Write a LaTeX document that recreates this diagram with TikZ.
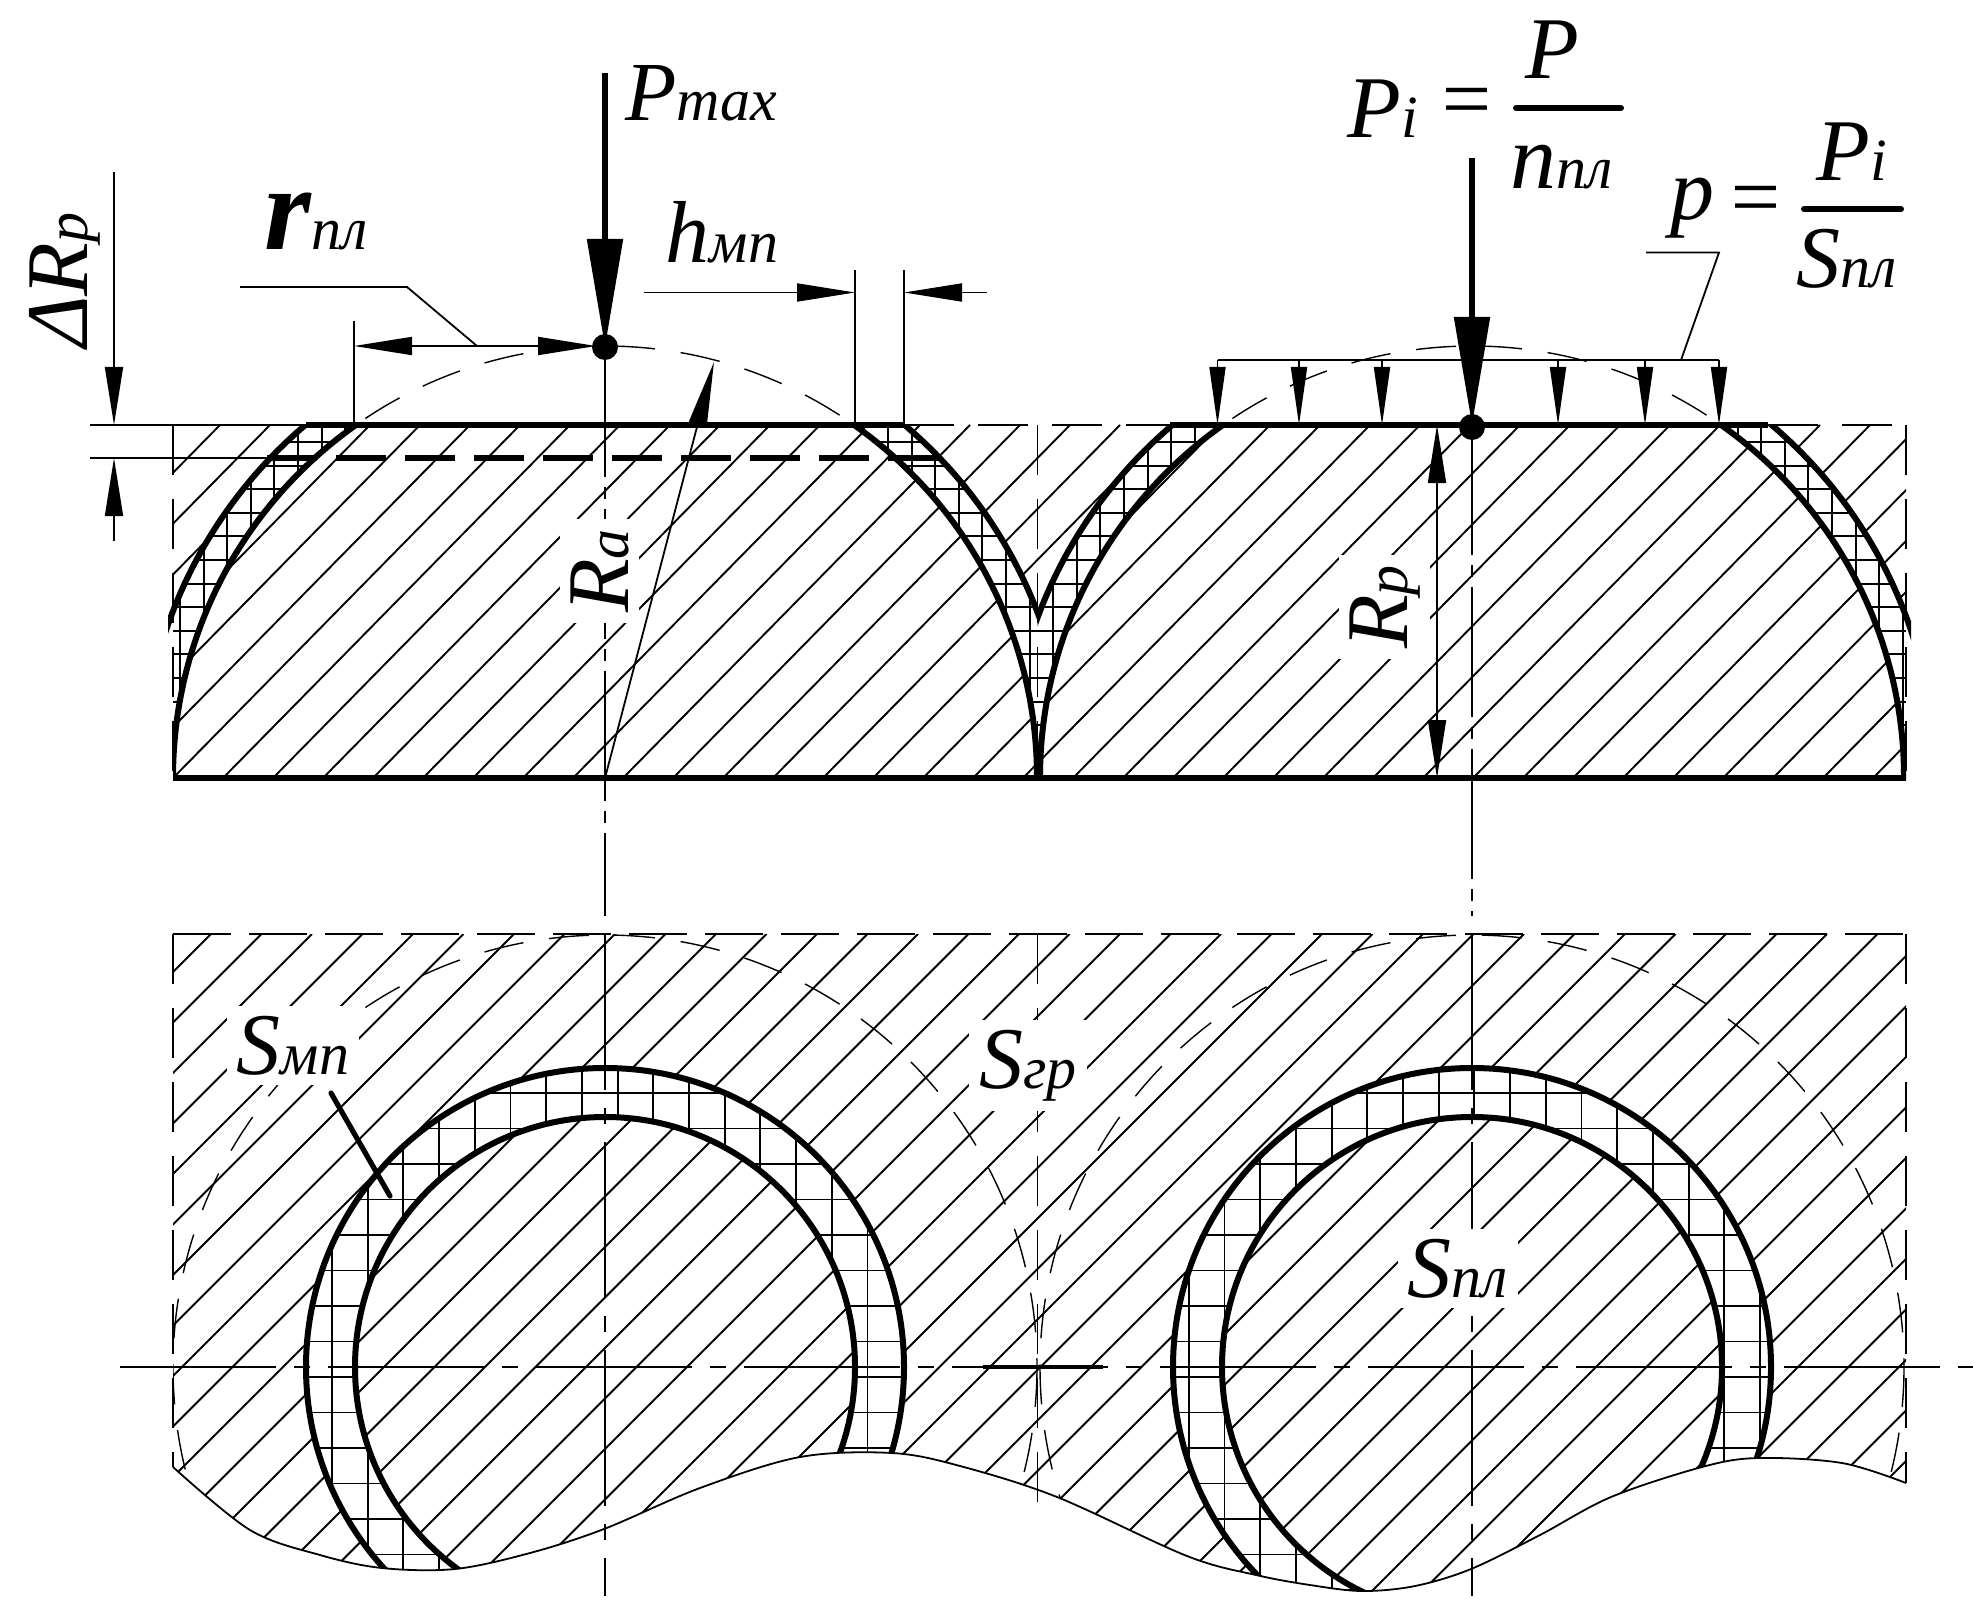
\documentclass[tikz,border=0pt]{standalone}
\usepackage{fontspec}
\setmainfont{Liberation Serif}
\usetikzlibrary{arrows.meta}

% Label with a big letter and a small index on one baseline
\newcommand{\lab}[3][44]{{\itshape\fontsize{#1}{#1}\selectfont #2\fontsize{30}{30}\selectfont #3}}
\newcommand{\hatchtop}{\foreach \k in {-6,...,34}
	{\draw[hatch] ({520+50*\k},425) -- ({173+50*\k},778);}}
\newcommand{\hatchlow}{\foreach \k in {-1,...,46}
	{\draw[hatch] ({211+50.5*\k},934) -- ({211+50.5*\k-666},1600);}}
\newcommand{\wave}{plot[smooth,tension=.55] coordinates {(173,1467) (250,1530)
	(320,1555) (382,1568) (455,1569) (530,1553) (604,1529) (700,1488) (800,1457)
	(892,1453) (960,1466) (1057,1497) (1187,1556) (1256,1575) (1310,1585) (1362,1591)
	(1415,1586) (1471,1569) (1540,1535) (1611,1497) (1702,1467) (1758,1458)
	(1842,1463) (1906,1483)}}

\begin{document}
\begin{tikzpicture}[x=.5pt,y=-.5pt,
% Line styles
    hatch/.style={line width=.95pt},
    gridline/.style={line width=.95pt},
    thin line/.style={line width=.9pt},
    outline/.style={line width=3pt},
    rim/.style={line width=.9pt,dash pattern=on 25pt off 12pt},
    ghost/.style={line width=.7pt,dash pattern=on 20pt off 13pt},
    axisline/.style={line width=.9pt,dash pattern=on 78pt off 9pt on 8pt off 9pt},
% Arrow styles
    force/.style={line width=2.6pt,-{Triangle[length=54pt,width=17.5pt]}},
    load/.style={line width=.9pt,-{Triangle[length=29pt,width=8pt]}},
    dimen/.style={line width=.9pt,-{Triangle[length=29pt,width=9pt]}},
    dimboth/.style={line width=.9pt,{Triangle[length=29pt,width=9pt]}-{Triangle[length=29pt,width=9pt]}},
% Text styles
    lbl/.style={anchor=base,inner sep=0pt},
    lblbg/.style={anchor=base,inner sep=5pt,fill=white},
    eqsign/.style={inner sep=0pt,font=\itshape\fontsize{44}{44}\selectfont},
    fracbar/.style={line width=3pt,line cap=round}
    ]
\useasboundingbox (0,0) rectangle (1973,1604);
%% Centres of the two contact spots
\coordinate (o1) at (605,778);
\coordinate (o2) at (1472,778);
\coordinate (c1) at (605,1367);
\coordinate (c2) at (1472,1367);

%% Section: hatching, worn ring, then the inner part
\begin{scope}
    \clip (173,425) rectangle (1906,778);
    \hatchtop
    \fill[white] (o1) circle [radius=463];
    \fill[white] (o2) circle [radius=463];
    \begin{scope}
        \clip (o1) circle [radius=463] (o2) circle [radius=463];
        \foreach \k in {0,...,73}
            {\draw[gridline] ({180+23.6*\k},425) -- ({180+23.6*\k},778);}
        \foreach \k in {0,...,14}
            {\draw[gridline] (173,{442+23.6*\k}) -- (1906,{442+23.6*\k});}
    \end{scope}
    \fill[white] (o1) circle [radius=432];
    \fill[white] (o2) circle [radius=432];
    \begin{scope}
        \clip (o1) circle [radius=432] (o2) circle [radius=432];
        \hatchtop
    \end{scope}
    \draw[outline] (o1) circle [radius=432];
    \draw[outline] (o2) circle [radius=432];
\end{scope}
\begin{scope}
    \clip (168,425) rectangle (1037.5,778);
    \draw[outline] (o1) circle [radius=463];
\end{scope}
\begin{scope}
    \clip (1037.5,425) rectangle (1911,778);
    \draw[outline] (o2) circle [radius=463];
\end{scope}
%% Original surface above the section
\begin{scope}
    \clip (0,0) rectangle (1973,425);
    \draw[ghost] (o1) circle [radius=432];
    \draw[ghost] (o2) circle [radius=432];
\end{scope}
%% Edges of the section
\draw[thin line] (90,425) -- (306,425);
\draw[thin line] (90,458) -- (267,458);
\draw[rim] (904,425) -- (1170,425);
\draw[rim] (1768,425) -- (1906,425);
\draw[rim] (173,425) -- (173,778);
\draw[rim] (1906,425) -- (1906,778);
\draw[rim] (1037.5,425) -- (1037.5,778);
\draw[outline] (306,425) -- (904,425);
\draw[outline] (1170,425) -- (1768,425);
\draw[line width=2.8pt,dash pattern=on 25pt off 9.5pt] (267,458) -- (940,458);
\draw[outline] (173,778) -- (1906,778);

%% Plan view
\begin{scope}
    \clip \wave -- (1906,934) -- (173,934) -- cycle;
    \hatchlow
    \fill[white] (c1) circle [radius=299];
    \fill[white] (c2) circle [radius=299];
    \begin{scope}
        \clip (c1) circle [radius=299] (c2) circle [radius=299];
        \foreach \k in {0,...,50}
            {\draw[gridline] ({332+35.7*\k},1060) -- ({332+35.7*\k},1600);}
        \foreach \k in {0,...,15}
            {\draw[gridline] (173,{1093+35.5*\k}) -- (1906,{1093+35.5*\k});}
    \end{scope}
    \fill[white] (c1) circle [radius=250];
    \fill[white] (c2) circle [radius=250];
    \begin{scope}
        \clip (c1) circle [radius=250] (c2) circle [radius=250];
        \hatchlow
    \end{scope}
    \draw[ghost] (c1) circle [radius=432];
    \draw[ghost] (c2) circle [radius=432];
    \draw[outline] (c1) circle [radius=299];
    \draw[outline] (c2) circle [radius=299];
    \draw[outline] (c1) circle [radius=250];
    \draw[outline] (c2) circle [radius=250];
\end{scope}
\draw[thin line] \wave;
\draw[rim,dash pattern=on 29pt off 9pt] (173,934) -- (1906,934);
\draw[rim] (173,934) -- (173,1467);
\draw[rim] (1906,934) -- (1906,1483);
\draw[rim] (1037.5,934) -- (1037.5,1510);
\draw[axisline] (120,1367) -- (1973,1367);
\draw[line width=2pt] (983,1367) -- (1103,1367);

%% Centre lines
\draw[axisline,dash pattern=on 65pt off 5pt on 6pt off 5pt] (605,347) -- (605,916);
\draw[axisline] (605,934) -- (605,1596);
\draw[axisline,dash pattern=on 65pt off 5pt on 6pt off 5pt] (1472,425) -- (1472,916);
\draw[axisline] (1472,934) -- (1472,1596);

%% Forces
\coordinate (top1) at (605,347);
\coordinate (top2) at (1472,425);
\draw[force] (605,73) -- (top1);
\fill (top1) circle [radius=13];
\draw[force] (1472,158) -- (top2);
\fill (1472,427) circle [radius=13];
%% Distributed load
\draw[thin line] (1217.5,360) -- (1719,360);
\foreach \xx in {1217.5,1299,1382,1558,1645,1719}
    {\draw[load] (\xx,360) -- (\xx,425);}
\draw[thin line] (1646,252.5) -- (1719,252.5) -- (1681,360);

%% Sizes
\draw[thin line] (354,321) -- (354,425);
\draw[thin line] (240,287) -- (407,287) -- (477,346);
\draw[dimen] (477,346) -- (354,346);
\draw[dimen] (477,346) -- (596,346);
\draw[thin line] (855,270) -- (855,425);
\draw[thin line] (904,270) -- (904,425);
\draw[dimen] (644,292.5) -- (855,292.5);
\draw[dimen] (987,292.5) -- (904,292.5);
\draw[dimen] (114,172) -- (114,425);
\draw[dimen] (114,541) -- (114,458);
\draw[line width=.9pt,-{Triangle[length=32pt,width=9pt]}] (o1) -- (714,362);
\draw[dimboth] (1437,425) -- (1437,778);

%% Formula bars
\draw[fracbar] (1516,108) -- (1621,108);
\draw[fracbar] (1804,209) -- (1901,209);
\draw[line width=2.6pt,line cap=round] (331,1093) -- (390,1196);

%% Labels
\node (pmax) [lbl] at (701,121) {\lab[42]{P}{max}};
\node (rpl) [lbl] at (316,250) {\lab[60]{{\bfseries r}}{пл}};
\node (hmp) [lbl] at (722,263) {\lab{h}{мп}};
\node (dr) [lbl,rotate=90] at (87,280) {\lab{ΔR}{p}};
\node (ra) [lblbg,rotate=90] at (628,571) {\lab{R}{a}};
\node (rp) [lblbg,rotate=90] at (1407,607) {\lab{R}{p}};
\node (pi) [lbl] at (1383,138) {\lab{P}{i}};
\node (eq1) [eqsign] at (1466,108) {=};
\node (pnum) [lbl] at (1552,79) {\lab{P}{}};
\node (nden) [lbl] at (1562,189) {\lab[46]{n}{пл}};
\node (plow) [lbl] at (1692,220) {\lab{p}{}};
\node (eq2) [eqsign] at (1755,206) {=};
\node (pinum) [lbl] at (1852,181) {\lab{P}{i}};
\node (sden) [lbl] at (1847,288) {\lab{S}{пл}};
\node (smp) [lblbg] at (293,1074) {\lab{S}{мп}};
\node (sgr) [lblbg] at (1028,1088) {\lab{S}{гр}};
\node (spl) [lblbg] at (1458,1297) {\lab{S}{пл}};
\end{tikzpicture}
\end{document}
